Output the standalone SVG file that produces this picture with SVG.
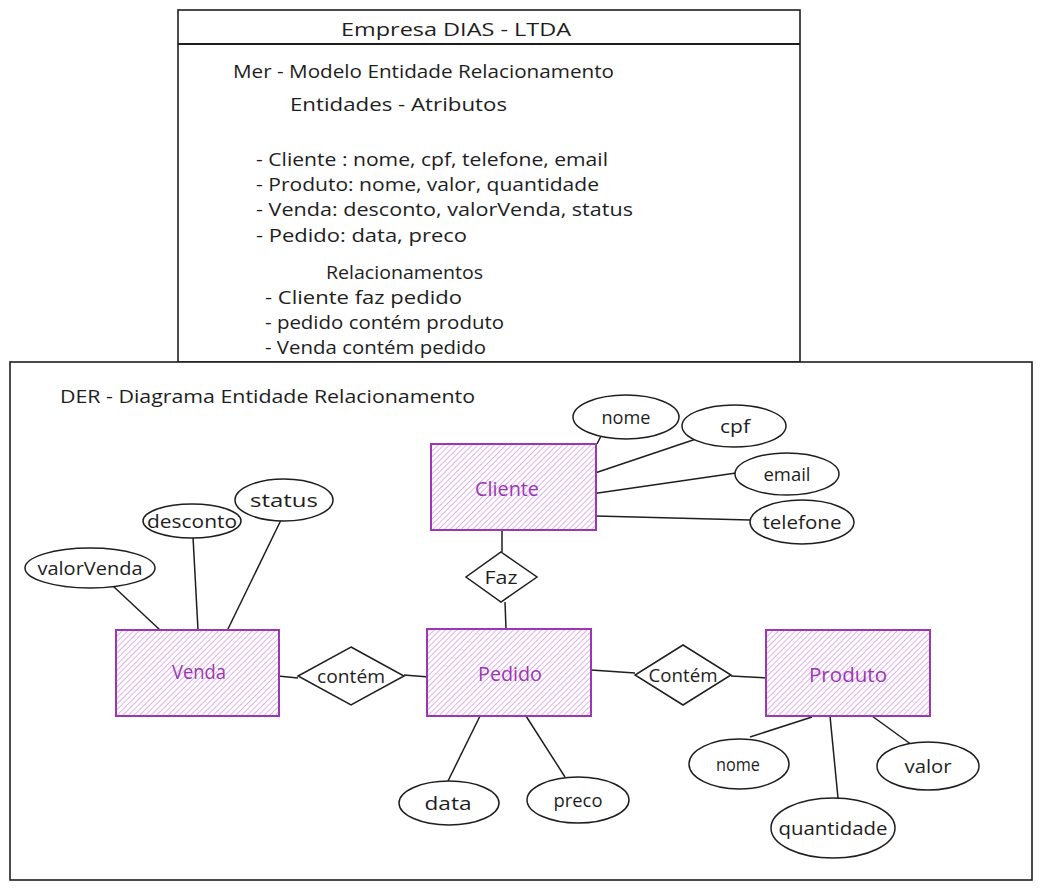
<svg xmlns="http://www.w3.org/2000/svg" width="1042" height="889" viewBox="0 0 1042 889">
  <defs>
    <pattern id="hatch" width="4" height="4" patternUnits="userSpaceOnUse" patternTransform="rotate(45)">
      <rect width="4" height="4" fill="#ffffff"/>
      <line x1="0" y1="0" x2="0" y2="4" stroke="#d99ce8" stroke-width="1.6"/>
    </pattern>
    <style>
      text { font-family: "Open Sans", "Liberation Sans", sans-serif; fill: #1e1e1e; }
      .note { font-size: 18px; }
      .lbl { font-size: 19px; text-anchor: middle; dominant-baseline: central; }
      .ent rect { fill: url(#hatch); stroke: #9c36b5; stroke-width: 2; }
      .ent text { font-size: 20px; fill: #9c36b5; text-anchor: middle; dominant-baseline: central; }
      .attr ellipse, .rel polygon { fill: #ffffff; stroke: #1e1e1e; stroke-width: 1.5; }
      .frame { fill: #ffffff; stroke: #1e1e1e; stroke-width: 1.6; }
      #connectors line { stroke: #1e1e1e; stroke-width: 1.5; }
    </style>
  </defs>

  <rect width="1042" height="889" fill="#ffffff"/>

  <!-- MER summary card -->
  <g id="mer-card">
    <rect class="frame" x="178" y="10" width="622" height="352"/>
    <line x1="178" y1="44" x2="800" y2="44" stroke="#1e1e1e" stroke-width="2"/>
    <text class="note" x="456" y="36" text-anchor="middle" textLength="230" lengthAdjust="spacingAndGlyphs">Empresa DIAS - LTDA</text>
    <text class="note" x="233" y="78" textLength="381" lengthAdjust="spacingAndGlyphs">Mer - Modelo Entidade Relacionamento</text>
    <text class="note" x="290" y="111" textLength="217" lengthAdjust="spacingAndGlyphs">Entidades - Atributos</text>
    <text class="note" x="256" y="166" textLength="352" lengthAdjust="spacingAndGlyphs">- Cliente : nome, cpf, telefone, email</text>
    <text class="note" x="256" y="191" textLength="343" lengthAdjust="spacingAndGlyphs">- Produto: nome, valor, quantidade</text>
    <text class="note" x="256" y="216" textLength="377" lengthAdjust="spacingAndGlyphs">- Venda: desconto, valorVenda, status</text>
    <text class="note" x="256" y="242" textLength="211" lengthAdjust="spacingAndGlyphs">- Pedido: data, preco</text>
    <text class="note" x="326" y="279" textLength="157" lengthAdjust="spacingAndGlyphs">Relacionamentos</text>
    <text class="note" x="265" y="304" textLength="197" lengthAdjust="spacingAndGlyphs">- Cliente faz pedido</text>
    <text class="note" x="265" y="329" textLength="239" lengthAdjust="spacingAndGlyphs">- pedido contém produto</text>
    <text class="note" x="265" y="354" textLength="221" lengthAdjust="spacingAndGlyphs">- Venda contém pedido</text>
  </g>

  <!-- DER frame -->
  <g id="der-frame">
    <rect class="frame" x="10" y="362" width="1022" height="518"/>
    <text class="note" x="60" y="403" textLength="415" lengthAdjust="spacingAndGlyphs">DER - Diagrama Entidade Relacionamento</text>
  </g>

  <!-- connectors -->
  <g id="connectors">
    <line x1="597" y1="444" x2="604" y2="430"/>
    <line x1="592" y1="474" x2="702" y2="437"/>
    <line x1="591" y1="494" x2="736" y2="473"/>
    <line x1="596" y1="516" x2="750" y2="520"/>
    <line x1="502" y1="530" x2="502" y2="552"/>
    <line x1="505" y1="602" x2="506" y2="629"/>
    <line x1="113" y1="586" x2="160" y2="630"/>
    <line x1="193" y1="537" x2="198" y2="630"/>
    <line x1="281" y1="520" x2="227" y2="631"/>
    <line x1="278" y1="676" x2="298" y2="678"/>
    <line x1="404" y1="675" x2="429" y2="677"/>
    <line x1="591" y1="670" x2="635" y2="673"/>
    <line x1="731" y1="676" x2="768" y2="678"/>
    <line x1="480" y1="716" x2="448" y2="781"/>
    <line x1="526" y1="716" x2="565" y2="777"/>
    <line x1="812" y1="717" x2="750" y2="737"/>
    <line x1="830" y1="716" x2="838" y2="798"/>
    <line x1="872" y1="716" x2="912" y2="745"/>
  </g>

  <!-- entities -->
  <g id="cliente" class="ent">
    <rect x="431" y="444" width="165" height="86"/>
    <text x="507" y="488" textLength="64" lengthAdjust="spacingAndGlyphs">Cliente</text>
  </g>
  <g id="venda" class="ent">
    <rect x="116" y="630" width="163" height="86"/>
    <text x="199" y="671" textLength="54" lengthAdjust="spacingAndGlyphs">Venda</text>
  </g>
  <g id="pedido" class="ent">
    <rect x="427" y="629" width="164" height="87"/>
    <text x="510" y="673" textLength="64" lengthAdjust="spacingAndGlyphs">Pedido</text>
  </g>
  <g id="produto" class="ent">
    <rect x="766" y="630" width="164" height="86"/>
    <text x="848" y="674" textLength="78" lengthAdjust="spacingAndGlyphs">Produto</text>
  </g>

  <!-- relationships -->
  <g id="rel-faz" class="rel">
    <polygon points="501,552 537,577 501,602 466,577"/>
    <text class="lbl" x="501" y="577" textLength="33" lengthAdjust="spacingAndGlyphs">Faz</text>
  </g>
  <g id="rel-contem-venda" class="rel">
    <polygon points="351,647 404,676 351,705 298,676"/>
    <text class="lbl" x="351" y="676" textLength="68" lengthAdjust="spacingAndGlyphs">contém</text>
  </g>
  <g id="rel-contem-produto" class="rel">
    <polygon points="683,645 731,675 683,705 635,675"/>
    <text class="lbl" x="683" y="675" textLength="69" lengthAdjust="spacingAndGlyphs">Contém</text>
  </g>

  <!-- attributes -->
  <g id="attr-cliente-nome" class="attr">
    <ellipse cx="626" cy="417" rx="53" ry="22"/>
    <text class="lbl" x="626" y="417" textLength="49" lengthAdjust="spacingAndGlyphs">nome</text>
  </g>
  <g id="attr-cpf" class="attr">
    <ellipse cx="734" cy="426" rx="52" ry="21"/>
    <text class="lbl" x="735" y="426" textLength="30" lengthAdjust="spacingAndGlyphs">cpf</text>
  </g>
  <g id="attr-email" class="attr">
    <ellipse cx="787" cy="474" rx="52" ry="21"/>
    <text class="lbl" x="787" y="474" textLength="47" lengthAdjust="spacingAndGlyphs">email</text>
  </g>
  <g id="attr-telefone" class="attr">
    <ellipse cx="802" cy="522" rx="52" ry="22"/>
    <text class="lbl" x="802" y="522" textLength="79" lengthAdjust="spacingAndGlyphs">telefone</text>
  </g>
  <g id="attr-status" class="attr">
    <ellipse cx="284" cy="500" rx="49" ry="21"/>
    <text class="lbl" x="284" y="500" textLength="68" lengthAdjust="spacingAndGlyphs">status</text>
  </g>
  <g id="attr-desconto" class="attr">
    <ellipse cx="192" cy="521" rx="49" ry="17"/>
    <text class="lbl" x="192" y="521" textLength="90" lengthAdjust="spacingAndGlyphs">desconto</text>
  </g>
  <g id="attr-valorvenda" class="attr">
    <ellipse cx="90" cy="568" rx="65" ry="20"/>
    <text class="lbl" x="90" y="568" textLength="105" lengthAdjust="spacingAndGlyphs">valorVenda</text>
  </g>
  <g id="attr-data" class="attr">
    <ellipse cx="449" cy="803" rx="50" ry="22"/>
    <text class="lbl" x="448" y="803" textLength="47" lengthAdjust="spacingAndGlyphs">data</text>
  </g>
  <g id="attr-preco" class="attr">
    <ellipse cx="578" cy="800" rx="51" ry="23"/>
    <text class="lbl" x="578" y="800" textLength="49" lengthAdjust="spacingAndGlyphs">preco</text>
  </g>
  <g id="attr-produto-nome" class="attr">
    <ellipse cx="739" cy="764" rx="50" ry="25"/>
    <text class="lbl" x="738" y="764" textLength="44" lengthAdjust="spacingAndGlyphs">nome</text>
  </g>
  <g id="attr-quantidade" class="attr">
    <ellipse cx="833" cy="828" rx="62" ry="30"/>
    <text class="lbl" x="833" y="828" textLength="109" lengthAdjust="spacingAndGlyphs">quantidade</text>
  </g>
  <g id="attr-valor" class="attr">
    <ellipse cx="928" cy="766" rx="51" ry="24"/>
    <text class="lbl" x="928" y="766" textLength="47" lengthAdjust="spacingAndGlyphs">valor</text>
  </g>
</svg>
